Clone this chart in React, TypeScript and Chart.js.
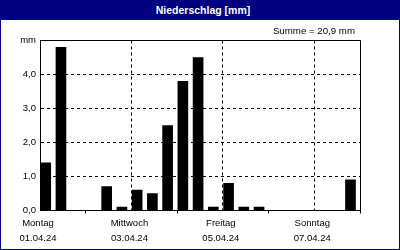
import React, { useEffect, useRef } from 'react';
import { Chart, registerables } from 'chart.js';

Chart.register(...registerables);

// ---- data ----
const title = 'Niederschlag [mm]';
const weekdays = ['Montag', 'Dienstag', 'Mittwoch', 'Donnerstag', 'Freitag', 'Samstag', 'Sonntag'];
const dates = ['01.04.24', '02.04.24', '03.04.24', '04.04.24', '05.04.24', '06.04.24', '07.04.24'];
// precipitation (mm) per 8-hour interval, three intervals per day
const monday = [1.4, 4.8, 0];
const tuesday = [0, 0.7, 0.1];
const wednesday = [0.6, 0.5, 2.5];
const thursday = [3.8, 4.5, 0.1];
const friday = [0.8, 0.1, 0.1];
const saturday = [0, 0, 0];
const sunday = [0, 0, 0.9];
const precipitation = [...monday, ...tuesday, ...wednesday, ...thursday, ...friday, ...saturday, ...sunday];
const yTickLabels = ['0,0', '1,0', '2,0', '3,0', '4,0', 'mm'];

const HOURS_PER_INTERVAL = 8;
const BAR_POS_IN_INTERVAL = 3; // hours after interval start where the bar is centred
const FONT = "'Liberation Sans', Arial, sans-serif";
const NAVY = '#000080';

const total = precipitation.reduce((a, b) => a + b, 0);
const totalLabel = 'Summe = ' + total.toFixed(1).replace('.', ',') + ' mm';

const framePlugin = {
  id: 'frame',
  afterDatasetsDraw(chart: any) {
    const { ctx, chartArea: a } = chart;
    const t = Math.round(a.top - 0.5) + 0.5;
    const r = Math.round(a.right - 0.5) + 0.5;
    ctx.save();
    ctx.strokeStyle = '#000';
    ctx.lineWidth = 1;
    ctx.setLineDash([]);
    ctx.beginPath();
    ctx.moveTo(a.left, t);
    ctx.lineTo(r, t);
    ctx.lineTo(r, a.bottom);
    ctx.stroke();
    ctx.restore();
  },
};

export default function App() {
  const ref = useRef<HTMLCanvasElement>(null);

  useEffect(() => {
    if (!ref.current) return;
    const points = precipitation.map((v, i) => ({
      x: i * HOURS_PER_INTERVAL + BAR_POS_IN_INTERVAL,
      y: v,
    }));
    const transparent = 'rgba(0,0,0,0)';
    const chart = new Chart(ref.current, {
      type: 'bar',
      data: {
        datasets: [
          {
            data: points as any,
            backgroundColor: '#000',
            borderWidth: 0,
            barThickness: 10,
          },
        ],
      },
      plugins: [framePlugin],
      options: {
        animation: false,
        responsive: false,
        events: [],
        layout: { padding: { top: 20.5, right: 39, left: 0, bottom: 0 } },
        plugins: { legend: { display: false }, tooltip: { enabled: false }, title: { display: false } },
        scales: {
          x: {
            type: 'linear',
            min: 0,
            max: 168,
            offset: false,
            afterFit: (s: any) => {
              s.height = 38.5;
            },
            ticks: {
              stepSize: 24,
              autoSkip: false,
              maxRotation: 0,
              padding: 2,
              labelOffset: -2,
              color: '#000',
              font: { family: FONT, size: 9.5, lineHeight: 15.5 / 9.5 },
              callback: (v: any) => {
                const d = Math.round(Number(v) / 24);
                if (Number(v) % 48 === 0 && d < 7) return [weekdays[d], dates[d]];
                return '';
              },
            },
            grid: {
              offset: false,
              drawOnChartArea: true,
              drawTicks: true,
              tickLength: 3,
              lineWidth: 1,
              color: (c: any) => {
                const v = c.tick ? c.tick.value : 0;
                return v % 48 === 0 && v > 0 && v < 168 ? '#000' : transparent;
              },
              tickColor: (c: any) => {
                const v = c.tick ? c.tick.value : 0;
                return v % 48 !== 0 || v === 168 ? '#000' : transparent;
              },
            },
            border: { display: true, color: '#000', width: 1, dash: [3, 3] },
          },
          y: {
            min: 0,
            max: 5,
            afterFit: (s: any) => {
              s.width = 39;
            },
            ticks: {
              stepSize: 1,
              padding: 4,
              color: '#000',
              font: { family: FONT, size: 9.5 },
              callback: (_v: any, i: number) => yTickLabels[i],
            },
            grid: {
              drawTicks: false,
              lineWidth: 1,
              color: (c: any) => {
                const v = c.tick ? c.tick.value : 0;
                return v > 0 && v < 5 ? '#000' : transparent;
              },
            },
            border: { display: true, color: '#000', width: 1, dash: [3, 3] },
          },
        },
      } as any,
    });
    return () => chart.destroy();
  }, []);

  return (
    <div
      style={{
        position: 'fixed',
        left: 0,
        top: 0,
        width: 400,
        height: 250,
        boxSizing: 'border-box',
        border: '1px solid ' + NAVY,
        background: '#fff',
        overflow: 'hidden',
      }}
    >
      <div
        style={{
          height: 19,
          background: NAVY,
          color: '#fff',
          font: 'bold 10.5px ' + FONT,
          lineHeight: '19px',
          textAlign: 'center',
          paddingLeft: 6,
          whiteSpace: 'nowrap',
        }}
      >
        {title}
      </div>
      <div style={{ position: 'relative', width: 398, height: 229 }}>
        <canvas ref={ref} width={398} height={229} style={{ display: 'block' }} />
        <span
          style={{
            position: 'absolute',
            right: 44,
            top: 5,
            font: '9.7px ' + FONT,
            lineHeight: '12px',
            color: '#000',
            whiteSpace: 'nowrap',
          }}
        >
          {totalLabel}
        </span>
      </div>
    </div>
  );
}
